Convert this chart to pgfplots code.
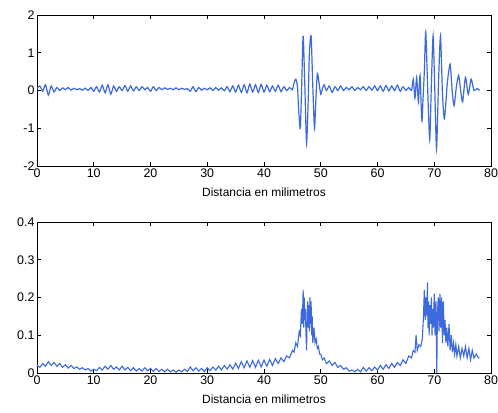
\documentclass[border=0pt]{standalone}
\usepackage{pgfplots}
\pgfplotsset{compat=1.18}
\usepackage{fontspec}
\setmainfont{Liberation Sans}
\definecolor{sig}{RGB}{60,105,220}
\pgfplotsset{
  myax/.style={
    scale only axis, width=454bp, height=151bp,
    xmin=0, xmax=80, xtick={0,10,...,80},
    tick align=inside, major tick length=4bp,
    ticklabel style={font=\fontsize{12.5}{13}\selectfont},
    label style={font=\fontsize{12}{13}\selectfont},
    /pgf/number format/assume math mode=true,
    xlabel={Distancia en milimetros},
    xlabel style={yshift=-4bp},
    xticklabel style={yshift=1bp},
    yticklabel style={xshift=1bp},
    axis line style={line width=0.8bp},
    every tick/.style={black, line width=0.8bp},
  }
}
\begin{document}
\begin{tikzpicture}
\begin{axis}[myax, at={(0,0)}, ymin=-2, ymax=2, ytick={-2,-1,0,1,2}]
\addplot[sig, line width=1.2bp, smooth, tension=0.4] coordinates {
(0,0.05)(0.5,0.12)(1,-0.02)(1.5,0.15)(2,-0.12)(2.5,0.12)(3,-0.04)(3.5,0.08)(4,0.0)(4.5,0.07)
(5,0.02)(5.5,0.08)(6,0.01)(6.5,0.06)(7,0.02)(7.5,0.05)(8,0.01)(8.5,0.06)(9,0.0)(9.5,0.08)
(10,-0.02)(10.5,0.1)(11,-0.04)(11.5,0.14)(12,-0.06)(12.5,0.15)(13,-0.1)(13.5,0.12)(14,-0.02)(14.5,0.1)
(15,0.0)(15.5,0.13)(16,-0.02)(16.5,0.12)(17,-0.01)(17.5,0.1)(18,0.0)(18.5,0.1)(19,0.02)(19.5,0.08)
(20,-0.02)(20.5,0.1)(21,0.0)(21.5,0.08)(22,0.02)(22.5,0.07)(23,0.03)(23.5,0.06)(24,0.02)(24.5,0.07)
(25,0.02)(25.5,0.06)(26,0.03)(26.5,0.05)(27,-0.02)(27.5,0.1)(28,-0.03)(28.5,0.08)(29,0.01)(29.5,0.06)
(30,0.02)(30.5,0.07)(31,0.0)(31.5,0.08)(32,0.01)(32.5,0.07)(33,-0.01)(33.5,0.1)(34,-0.03)(34.5,0.12)
(35,-0.04)(35.5,0.14)(36,-0.05)(36.5,0.15)(37,-0.06)(37.5,0.17)(38,-0.04)(38.5,0.15)(39,-0.05)(39.5,0.16)
(40,-0.04)(40.5,0.14)(41,-0.03)(41.5,0.12)(42,-0.02)(42.5,0.14)(43,-0.03)(43.5,0.1)(44,0.0)(44.5,0.08)
(45,0.02)(45.3,0.2)(45.6,0.3)(45.9,0.1)(46.1,-0.5)(46.4,-1.0)(46.65,0.2)(46.9,1.45)(47.2,0.1)(47.5,-1.4)
(47.8,-0.2)(48.0,1.0)(48.3,1.45)(48.6,0.1)(48.9,-1.0)(49.15,-0.2)(49.4,0.45)(49.7,0.2)(50.0,-0.1)(50.3,0.05)
(50.6,0.15)(51,0.0)(51.5,0.12)(52,-0.05)(52.5,0.1)(53,0.0)(53.5,0.12)(54,0.0)(54.5,0.08)(55,0.02)
(55.5,0.1)(56,0.0)(56.5,0.08)(57,0.02)(57.5,0.1)(58,0.0)(58.5,0.1)(59,0.01)(59.5,0.12)(60,0.0)
(60.5,0.12)(61,-0.02)(61.5,0.13)(62,-0.01)(62.5,0.12)(63,0.0)(63.5,0.14)(64,-0.02)(64.5,0.1)(65,0.0)
(65.5,0.08)(66,0.0)(66.3,0.3)(66.6,-0.2)(66.9,0.35)(67.2,-0.3)(67.5,0.4)(67.8,-0.8)(68.0,-0.3)(68.25,0.5)
(68.5,1.55)(68.85,0.0)(69.2,-1.3)(69.5,0.2)(69.8,1.45)(70.1,0.0)(70.4,-1.55)(70.75,0.2)(71.1,1.45)(71.45,-0.1)
(71.8,-0.75)(72.3,0.2)(72.8,0.7)(73.15,0.0)(73.5,-0.4)(73.9,0.1)(74.3,0.4)(74.65,0.0)(75.0,-0.3)(75.5,0.35)
(76.0,-0.1)(76.5,0.3)(77.0,0.0)(77.5,0.05)(78,0.0)
};
\end{axis}
\begin{axis}[myax, at={(0,-207bp)}, ymin=0, ymax=0.4, ytick={0,0.1,0.2,0.3,0.4},
  yticklabel style={/pgf/number format/fixed}]
\addplot[sig, line width=1.1bp] coordinates {
(0,0.02)(0.5,0.015)(1,0.025)(1.5,0.018)(2,0.03)(2.5,0.02)(3,0.028)(3.5,0.018)(4,0.025)(4.5,0.015)
(5,0.022)(5.5,0.013)(6,0.02)(6.5,0.012)(7,0.016)(7.5,0.01)(8,0.014)(8.5,0.008)(9,0.012)(9.5,0.005)
(10,0.01)(10.5,0.006)(11,0.015)(11.5,0.008)(12,0.018)(12.5,0.01)(13,0.02)(13.5,0.01)(14,0.016)(14.5,0.008)
(15,0.018)(15.5,0.008)(16,0.015)(16.5,0.006)(17,0.014)(17.5,0.005)(18,0.012)(18.5,0.005)(19,0.014)(19.5,0.006)
(20,0.012)(20.5,0.004)(21,0.012)(21.5,0.004)(22,0.01)(22.5,0.003)(23,0.01)(23.5,0.003)(24,0.008)(24.5,0.002)
(25,0.008)(25.5,0.003)(26,0.01)(26.5,0.004)(27,0.016)(27.5,0.006)(28,0.014)(28.5,0.005)(29,0.012)(29.5,0.004)
(30,0.014)(30.5,0.006)(31,0.016)(31.5,0.008)(32,0.018)(32.5,0.008)(33,0.02)(33.5,0.01)(34,0.022)(34.5,0.01)
(35,0.026)(35.5,0.012)(36,0.03)(36.5,0.014)(37,0.032)(37.5,0.015)(38,0.033)(38.5,0.015)(39,0.034)(39.5,0.016)
(40,0.034)(40.5,0.018)(41,0.036)(41.5,0.02)(42,0.038)(42.5,0.025)(43,0.04)(43.5,0.03)(44,0.045)(44.5,0.04)
(45,0.06)(45.3,0.055)(45.6,0.08)(45.9,0.07)(46.2,0.11)(46.4,0.1)(46.6,0.17)(46.75,0.13)(46.9,0.22)(47.0,0.12)
(47.1,0.2)(47.2,0.14)(47.3,0.17)(47.4,0.1)(47.5,0.06)(47.6,0.15)(47.7,0.19)(47.8,0.12)(47.9,0.18)(48.0,0.11)
(48.1,0.2)(48.2,0.13)(48.3,0.19)(48.4,0.1)(48.5,0.15)(48.6,0.08)(48.8,0.12)(49.0,0.08)(49.2,0.09)(49.4,0.065)
(49.6,0.07)(49.8,0.05)(50.0,0.05)(50.3,0.035)(50.6,0.04)(51,0.025)(51.5,0.032)(52,0.02)(52.5,0.028)(53,0.015)
(53.5,0.02)(54,0.01)(54.5,0.014)(55,0.005)(55.5,0.008)(56,0.003)(56.5,0.01)(57,0.003)(57.5,0.015)(58,0.005)
(58.5,0.014)(59,0.006)(59.5,0.016)(60,0.008)(60.5,0.02)(61,0.01)(61.5,0.022)(62,0.012)(62.5,0.025)(63,0.015)
(63.5,0.028)(64,0.02)(64.5,0.035)(65,0.025)(65.5,0.045)(66,0.04)(66.3,0.06)(66.6,0.055)(66.8,0.1)(67.0,0.06)
(67.3,0.075)(67.6,0.07)(67.9,0.09)(68.1,0.15)(68.25,0.22)(68.4,0.14)(68.55,0.2)(68.7,0.15)(68.8,0.24)(68.9,0.12)
(69.0,0.19)(69.1,0.1)(69.2,0.18)(69.35,0.13)(69.5,0.2)(69.6,0.1)(69.7,0.17)(69.85,0.12)(70.0,0.21)(70.15,0.1)
(70.3,0.19)(70.45,0.0)(70.55,0.15)(70.7,0.2)(70.85,0.11)(71.0,0.21)(71.15,0.12)(71.3,0.2)(71.45,0.08)(71.6,0.19)
(71.75,0.1)(71.9,0.14)(72.05,0.08)(72.2,0.12)(72.4,0.07)(72.6,0.13)(72.8,0.06)(73.0,0.1)(73.2,0.055)(73.4,0.08)
(73.6,0.05)(73.8,0.075)(74.0,0.045)(74.3,0.07)(74.6,0.04)(74.9,0.065)(75.2,0.045)(75.5,0.07)(75.8,0.04)(76.1,0.065)
(76.4,0.035)(76.7,0.06)(77.0,0.04)(77.4,0.05)(77.8,0.04)(78.0,0.04)
};
\end{axis}
\pgfresetboundingbox
\path[use as bounding box] (-37bp,-247bp) rectangle (461bp,166bp);
\end{tikzpicture}
\end{document}
